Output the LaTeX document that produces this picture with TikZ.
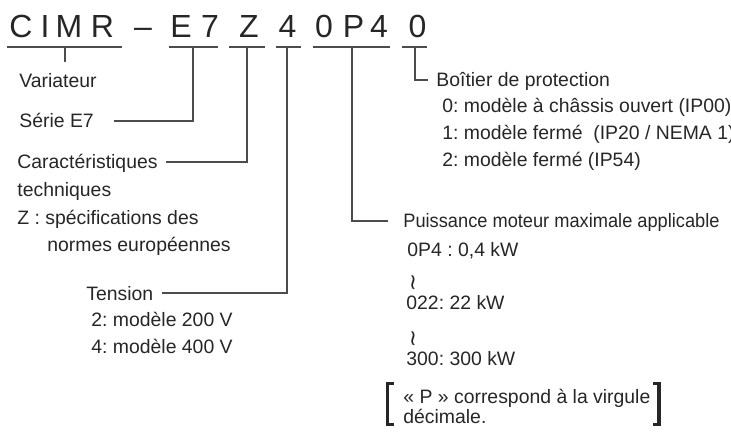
\documentclass[tikz,border=0pt]{standalone}
\usepackage{fontspec}
\setmainfont{Liberation Sans}
\newfontfamily\wavefont{DejaVu Sans}
\frenchspacing
\usetikzlibrary{positioning}

\begin{document}
\begin{tikzpicture}[x=0.5pt, y=-0.5pt,
  codechar/.style={anchor=base, inner sep=0pt, font=\fontsize{16}{19}\selectfont, text=black!85},
  lbl/.style={anchor=base west, inner sep=0pt, text height=0.9em, text depth=0.2em, font=\fontsize{9.7}{11.6}\selectfont, text=black!85},
  wavy/.style={inner sep=0pt, font=\wavefont\fontsize{11}{12}\selectfont, text=black!85},
  rule/.style={draw=black!70, line width=0.55pt},
  link/.style={draw=black!70, line width=0.55pt},
  brk/.style={draw=black!85, line width=1.7pt, line join=miter}]

  \useasboundingbox (0,0) rectangle (731,437);

  % Model code, one character at a time
  \foreach \x/\c [count=\i] in {21/C, 45/I, 69/M, 102.5/R, 143/--, 181/E, 210/7,
      249/Z, 287.5/4, 324/0, 353.5/P, 379/4, 417.5/0}
    \node[codechar] (k\i) at (\x,38) {\c};

  % Underlines and their link points
  \foreach \a/\b/\m/\n in {7/122/65/cimr, 169/218/193/serie, 229/265/247/spec,
      276/301/287/volt, 313/390/352/power, 402/427/415/encl} {
    \draw[rule] (\a,47) -- (\b,47);
    \coordinate (u\n) at (\m,47);
  }

  % Left labels
  \node[lbl] (varia) at (19,88) {Variateur};
  \node[lbl] (serie) at (19,128) {Série E7};
  \node[lbl] (carac) at (17,169) {Caractéristiques};
  \node[lbl] (carac2) at (17,197) {techniques};
  \node[lbl] (carac3) at (17,225) {Z : spécifications des};
  \node[lbl] (carac4) at (47,252) {normes européennes};
  \node[lbl] (tens) at (86,300) {Tension};
  \node[lbl] (tens1) at (91,327) {2: modèle 200 V};
  \node[lbl] (tens2) at (91,353) {4: modèle 400 V};

  % Right labels
  \node[lbl] (boit) at (436,87) {Boîtier de protection};
  \node[lbl] (boit1) at (442,113) {0: modèle à châssis ouvert (IP00)};
  \node[lbl] (boit2) at (442,140) {1: modèle fermé~ (IP20 / NEMA 1)};
  \node[lbl] (boit3) at (442,167) {2: modèle fermé (IP54)};

  \node[lbl, xscale=0.94] (puis) at (403,228) {Puissance moteur maximale applicable};
  \node[lbl] (puis1) at (407,257) {0P4 : 0,4 kW};
  \node[wavy] (wave1) at (413,283) {≀};
  \node[lbl] (puis2) at (406,310) {022: 22 kW};
  \node[wavy] (wave2) at (413,339) {≀};
  \node[lbl] (puis3) at (406,365) {300: 300 kW};

  \node[lbl] (note1) at (403,403) {« P » correspond à la virgule};
  \node[lbl] (note2) at (403,423) {décimale.};

  % Brackets round the note
  \draw[brk] (394,383.5) -- (387.5,383.5) -- (387.5,424.5) -- (394,424.5);
  \draw[brk] (653,383.5) -- (659,383.5) -- (659,424.5) -- (653,424.5);

  % Links
  \draw[link] (ucimr) -- ([yshift=4pt]varia.north -| ucimr);
  \draw[link] (userie) |- ([xshift=10pt]serie.east);
  \draw[link] (uspec) |- ([xshift=4pt]carac.east);
  \draw[link] (uvolt) |- ([xshift=4pt]tens.east);
  \draw[link] (upower) |- ([xshift=-7.5pt]puis.west);
  \draw[link] (uencl) |- ([xshift=-4pt]boit.west);

\end{tikzpicture}
\end{document}
